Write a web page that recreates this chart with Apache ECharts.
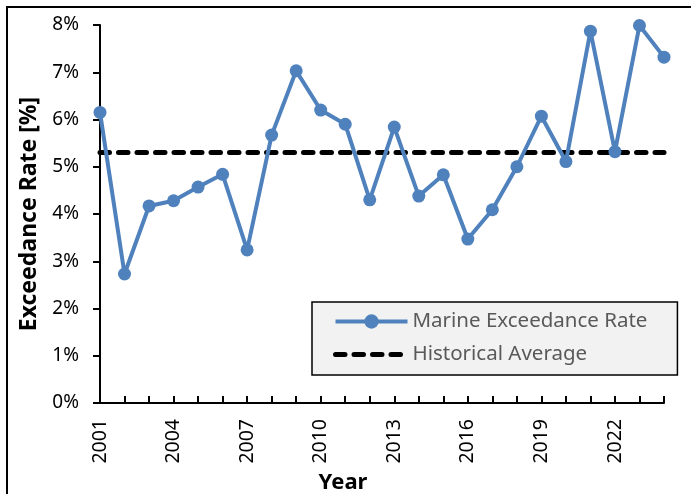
<!DOCTYPE html>
<html><head><meta charset="utf-8">
<script src="https://cdn.jsdelivr.net/npm/echarts@6/dist/echarts.min.js"></script>
<style>html,body{margin:0;padding:0;background:#fff}#c{width:691px;height:494px}</style>
</head><body><div id="c"></div>
<script>
const years = ['2001','2002','2003','2004','2005','2006','2007','2008','2009','2010','2011','2012','2013','2014','2015','2016','2017','2018','2019','2020','2021','2022','2023','2024'];
const marineRate = [6.15,2.73,4.17,4.28,4.57,4.84,3.24,5.67,7.03,6.20,5.90,4.30,5.84,4.38,4.83,3.47,4.09,5.00,6.07,5.11,7.87,5.32,7.99,7.32];
const historicalAverage = 5.30;
const yTicks = [0,1,2,3,4,5,6,7,8];

const FONT = '"Noto Sans", "Liberation Sans", sans-serif';
const chart = echarts.init(document.getElementById('c'), null, {renderer:'canvas'});
chart.setOption({
  animation:false,
  graphic:[{type:'rect', shape:{x:7,y:7,width:720,height:520}, style:{fill:'none', stroke:'#000', lineWidth:2}, silent:true}],
  grid:{left:100, right:27, top:25, bottom:91, containLabel:false, outerBoundsMode:'none'},
  legend:{
    left:312, top:302,
    orient:'vertical', itemGap:12,
    backgroundColor:'#f2f2f2', borderColor:'#000', borderWidth:1.5,
    padding:[9,30,10,21],
    itemWidth:72, itemHeight:18,
    textStyle:{fontFamily:FONT, fontSize:20.5, color:'#595959'},
    data:[
      {name:'Marine Exceedance Rate', lineStyle:{width:4}},
      {name:'Historical Average', itemStyle:{opacity:0}, lineStyle:{width:5}}
    ]
  },
  xAxis:{
    type:'category', data:years, boundaryGap:false,
    name:'Year', nameLocation:'middle', nameGap:66,
    nameTextStyle:{fontFamily:FONT, fontSize:22, fontWeight:'bold', color:'#000', padding:[0,78,0,0]},
    axisLine:{lineStyle:{color:'#000', width:2}},
    axisTick:{show:true, inside:true, length:7, interval:0, lineStyle:{color:'#000', width:2}},
    axisLabel:{rotate:90, interval:2, margin:16, fontFamily:FONT, fontSize:19.5, color:'#000'},
    splitLine:{show:false}
  },
  yAxis:{
    type:'value', min:0, max:8, interval:1,
    name:'Exceedance Rate [%]', nameLocation:'middle', nameGap:56, nameRotate:90,
    nameTextStyle:{fontFamily:FONT, fontSize:23, fontWeight:'bold', color:'#000'},
    axisLine:{show:true, lineStyle:{color:'#000', width:2}},
    axisTick:{show:true, length:7, lineStyle:{color:'#000', width:2}},
    axisLabel:{margin:21, fontFamily:FONT, fontSize:19, color:'#000',
      formatter:v=>yTicks.includes(v)?v+'%':''},
    splitLine:{show:false}
  },
  series:[
    {name:'Historical Average', type:'line', data:years.map(()=>historicalAverage),
     showSymbol:false, symbol:'none', z:1,
     lineStyle:{color:'#000', width:5, type:[9.5,9], cap:'round'}, itemStyle:{color:'#000'}},
    {name:'Marine Exceedance Rate', type:'line', data:marineRate, z:2,
     symbol:'circle', symbolSize:13,
     lineStyle:{color:'#4f81bd', width:4}, itemStyle:{color:'#4f81bd'}}
  ]
});
</script></body></html>
